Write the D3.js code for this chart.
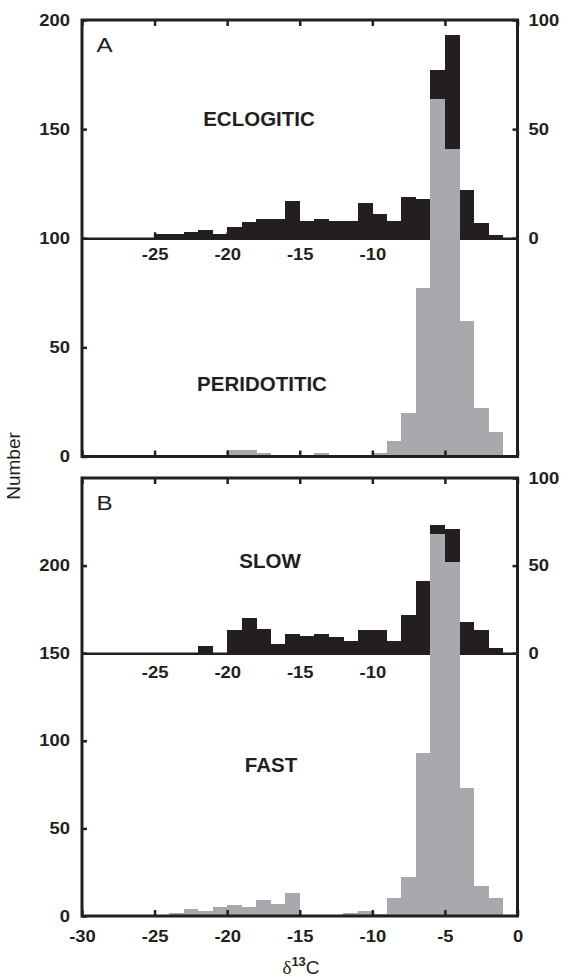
<!DOCTYPE html>
<html>
<head>
<meta charset="utf-8">
<script src="https://cdn.jsdelivr.net/npm/d3@7"></script>
<style>
body { margin: 0; background: #fff; }
text { font-family: "Liberation Sans", Arial, Helvetica, sans-serif; fill: #231f20; }
.tick text { font-weight: bold; font-size: 16px; }
.tick line { stroke: #231f20; stroke-width: 2.5px; }
.panel-name { font-weight: bold; font-size: 20.5px; }
.panel-letter { font-size: 21px; }
</style>
</head>
<body>
<svg id="chart" width="570" height="978"></svg>
<script>
// bin left edges, 1 permil wide
var bins = [-27, -26, -25, -24, -23, -22, -21, -20, -19, -18, -17, -16, -15, -14,
            -13, -12, -11, -10, -9, -8, -7, -6, -5, -4, -3, -2];

// panel A
var eclogitic   = [0, 0, 2, 2, 3, 4, 2, 5, 7.5, 9, 9, 17, 8, 9, 8, 8, 16, 11, 8, 19, 18, 77, 93, 22, 7, 1.5];
var peridotitic = [0, 0, 0, 0, 0, 0, 0, 3, 3, 1.5, 0, 0, 0, 1.5, 0, 0, 0, 1.5, 7, 20, 77, 164, 141, 62, 22, 11];

// panel B
var slow = [0, 0, 0, 0, 0, 4, 0, 13, 20, 14, 5, 11, 10, 11, 9, 7, 13, 13, 7, 22, 41, 73, 71, 18, 13, 3];
var fast = [0, 0, 0, 1.5, 4, 3, 5, 6, 5, 9, 7, 13, 0, 0, 0, 1.5, 3, 1, 10, 22, 93, 218, 202, 73, 17, 10];

var xTicks = [-30, -25, -20, -15, -10, -5, 0];
var innerTicks = [-25, -20, -15, -10, -5];
var innerLabels = [-25, -20, -15, -10];
var leftTicks = [0, 50, 100, 150, 200];
var rightTicks = [0, 50, 100];

var black = "#231f20", gray = "#a7a9ac";
var svg = d3.select("#chart");

var x = d3.scaleLinear().domain([-30, 0]).range([82, 517.5]);

var yA = d3.scaleLinear().domain([0, 200]).range([456.5, 20]);
var yAr = d3.scaleLinear().domain([0, 100]).range([yA(100), yA(200)]);
var yB = d3.scaleLinear().domain([0, 250]).range([916, 478]);
var yBr = d3.scaleLinear().domain([0, 100]).range([yB(150), yB(250)]);

function stretchText(g, k) {
    g.selectAll(".tick text").each(function () {
        var t = d3.select(this);
        var tx = +t.attr("x") || 0, ty = +t.attr("y") || 0;
        t.attr("x", 0).attr("y", 0)
            .attr("transform", "translate(" + tx + "," + ty + ") scale(" + k + ",1)");
    });
}

function cleanAxis(g) {
    g.select(".domain").remove();
    g.attr("font-size", null).attr("font-family", null);
    stretchText(g, 1.15);
}

function drawBars(g, values, y, color) {
    var rows = bins.map(function (b, i) { return {b: b, v: values[i]}; })
        .filter(function (d) { return d.v > 0; });
    g.selectAll(null)
        .data(rows)
        .enter()
        .append("rect")
        .attr("x", function (d) { return x(d.b); })
        .attr("width", function (d) { return x(d.b + 1) - x(d.b) + 0.3; })
        .attr("y", function (d) { return y(d.v); })
        .attr("height", function (d) { return y(0) - y(d.v); })
        .attr("fill", color)
        .attr("shape-rendering", "crispEdges");
}

function panel(cfg) {
    var g = svg.append("g");
    var top = cfg.y.range()[1], bottom = cfg.y.range()[0];

    // upper histogram on the inner baseline
    drawBars(g, cfg.upper, cfg.yr, black);

    // inner axis
    var inner = g.append("g")
        .attr("transform", "translate(0," + cfg.yr(0) + ")")
        .call(d3.axisBottom(x).tickValues(innerTicks).tickSizeInner(cfg.innerTick).tickSizeOuter(0)
            .tickPadding(cfg.innerPad)
            .tickFormat(function (d) { return innerLabels.indexOf(d) >= 0 ? d : ""; }));
    inner.select(".domain").attr("stroke", black).attr("stroke-width", 2.5);
    inner.attr("font-size", null).attr("font-family", null);
    stretchText(inner, 1.15);

    // lower histogram from zero, drawn over everything above
    drawBars(g, cfg.lower, cfg.y, gray);

    // outer axes
    g.append("g").attr("transform", "translate(0," + bottom + ")")
        .call(d3.axisBottom(x).tickValues(xTicks).tickSizeInner(-6).tickSizeOuter(0)
            .tickPadding(14.5)
            .tickFormat(cfg.xLabels ? function (d) { return d; } : function () { return ""; }))
        .call(cleanAxis);
    g.append("g").attr("transform", "translate(0," + top + ")")
        .call(d3.axisTop(x).tickValues(xTicks).tickSizeInner(-6).tickSizeOuter(0).tickFormat(""))
        .call(cleanAxis);
    g.append("g").attr("transform", "translate(" + x(-30) + ",0)")
        .call(d3.axisLeft(cfg.y).tickValues(cfg.leftTicks).tickSizeInner(-5).tickSizeOuter(0).tickPadding(12))
        .call(cleanAxis);
    g.append("g").attr("transform", "translate(" + x(0) + ",0)")
        .call(d3.axisRight(cfg.yr).tickValues(rightTicks).tickSizeInner(-5).tickSizeOuter(0).tickPadding(11))
        .call(cleanAxis);

    g.append("rect")
        .attr("x", x(-30)).attr("y", top)
        .attr("width", x(0) - x(-30)).attr("height", bottom - top)
        .attr("fill", "none").attr("stroke", black).attr("stroke-width", 3);

    g.append("text")
        .attr("class", "panel-letter")
        .attr("transform", "translate(96.5," + (top + 32) + ") scale(1.15,1)")
        .text(cfg.letter);

    cfg.names.forEach(function (n) {
        g.append("text")
            .attr("class", "panel-name")
            .attr("x", n[1]).attr("y", n[2])
            .attr("text-anchor", "middle")
            .text(n[0]);
    });
}

panel({
    letter: "A", y: yA, yr: yAr, upper: eclogitic, lower: peridotitic,
    leftTicks: leftTicks, xLabels: false, innerTick: -6, innerPad: 10,
    names: [["ECLOGITIC", 259, 126], ["PERIDOTITIC", 262, 390.5]]
});

panel({
    letter: "B", y: yB, yr: yBr, upper: slow, lower: fast,
    leftTicks: leftTicks, xLabels: true, innerTick: 0, innerPad: 13.5,
    names: [["SLOW", 270, 567.5], ["FAST", 271, 771.5]]
});

// axis titles
svg.append("text")
    .attr("transform", "translate(20,466) rotate(-90)")
    .attr("text-anchor", "middle")
    .style("font-size", "19px")
    .text("Number");

var xt = svg.append("text")
    .attr("x", 301).attr("y", 974)
    .attr("text-anchor", "middle")
    .style("font-size", "19px");
xt.append("tspan").style("font-family", "'Liberation Serif', serif").text("\u03b4");
xt.append("tspan").attr("dy", -8).style("font-size", "13px").style("font-weight", "bold").text("13");
xt.append("tspan").attr("dy", 8).text("C");
</script>
</body>
</html>
